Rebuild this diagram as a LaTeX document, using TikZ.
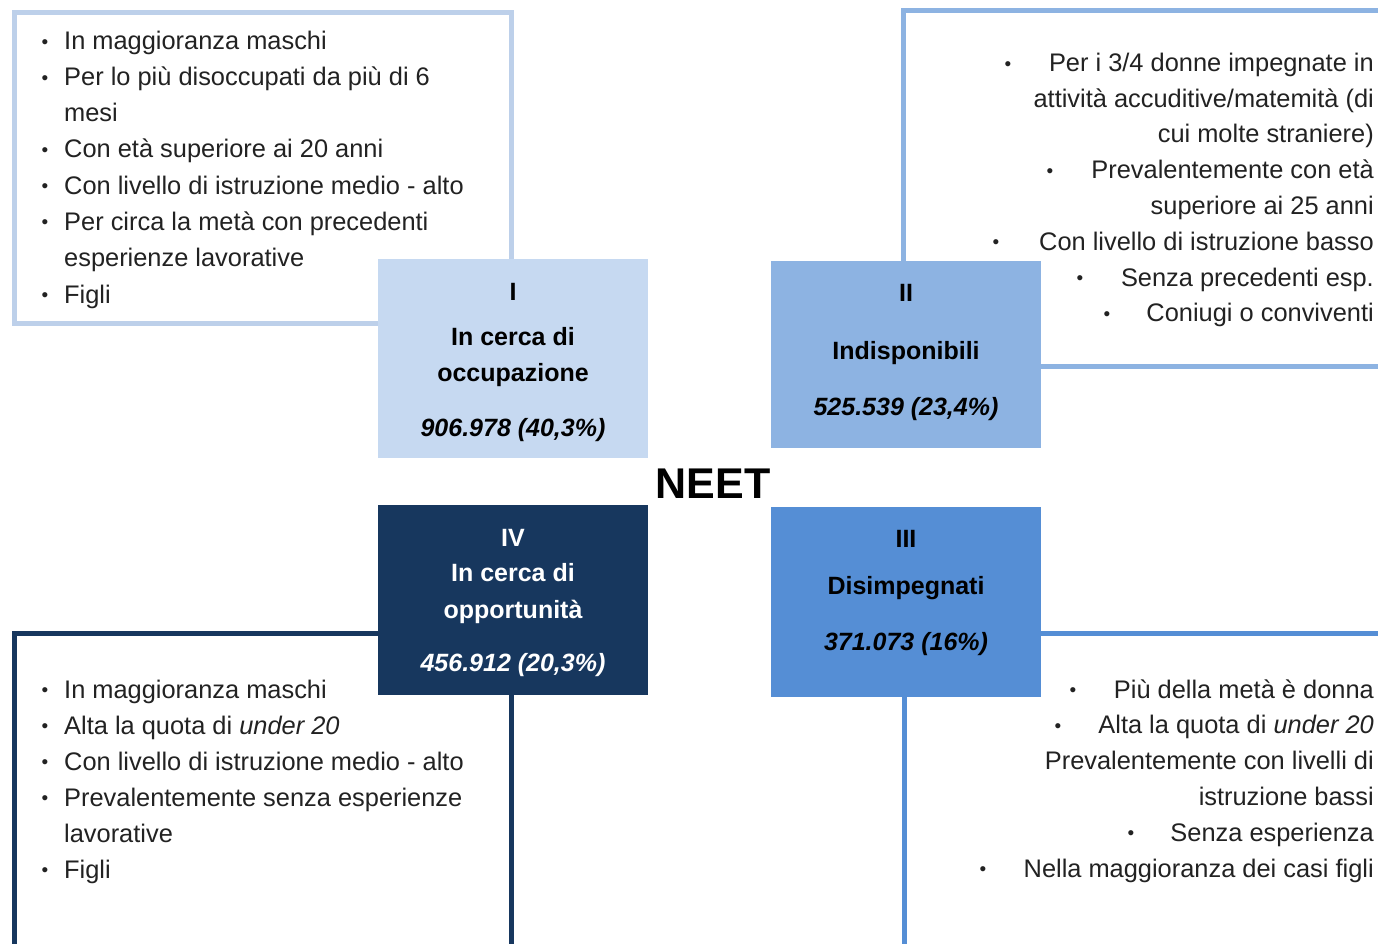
\documentclass[tikz,border=0pt]{standalone}
\usepackage{fontspec}
\setmainfont{Liberation Sans}
\definecolor{txtc}{HTML}{222222}
\definecolor{cOne}{HTML}{C6D9F1}
\definecolor{bOne}{HTML}{BDD0EA}
\definecolor{cTwo}{HTML}{8DB3E2}
\definecolor{cThree}{HTML}{558ED5}
\definecolor{cFour}{HTML}{17375E}
\tikzset{
  outl/.style={line width=5pt, fill=white},
  catbox/.style={inner sep=0pt},
  cat/.style={inner sep=0pt, anchor=base, font=\bfseries\fontsize{25}{30}\selectfont, text=black},
  catnum/.style={cat, font=\bfseries\itshape\fontsize{25}{30}\selectfont},
  itm/.style={inner sep=0pt, anchor=base west, font=\fontsize{25.4}{36}\selectfont, text=txtc},
  itmr/.style={itm, anchor=base east},
  bul/.style={inner sep=0pt, anchor=base, yshift=1.5pt, font=\fontsize{19}{36}\selectfont, text=txtc},
}
\begin{document}
\begin{tikzpicture}[x=1pt, y=-1pt]
\useasboundingbox (0,0) rectangle (1378,944);
\clip (0,0) rectangle (1378,944);
% outline boxes
\draw[outl, draw=bOne] (14.5,12.5) rectangle (511.5,323.5);
\draw[outl, draw=cTwo] (903.5,10.5) rectangle (1400,366);
\draw[outl, draw=cFour] (14.5,633) rectangle (511,960);
\draw[outl, draw=cThree] (904,633) rectangle (1400,960);
% category boxes
\node[catbox, fill=cOne, minimum width=270pt, minimum height=199pt, anchor=north west] (b1) at (378,259) {};
\node[catbox, fill=cTwo, minimum width=270pt, minimum height=187pt, anchor=north west] (b2) at (771,261) {};
\node[catbox, fill=cFour, minimum width=270pt, minimum height=190pt, anchor=north west] (b4) at (378,505) {};
\node[catbox, fill=cThree, minimum width=270pt, minimum height=190pt, anchor=north west] (b3) at (771,507) {};
% box I
\node[cat] (b1a) at (513,300) {I};
\node[cat] (b1b) at (513,345) {In cerca di};
\node[cat] (b1c) at (513,381.5) {occupazione};
\node[catnum] (b1d) at (513,436.5) {906.978 (40,3\%)};
% box II
\node[cat] (b2a) at (906,301.5) {II};
\node[cat] (b2b) at (906,359) {Indisponibili};
\node[catnum] (b2c) at (906,415) {525.539 (23,4\%)};
% box IV
\node[cat, text=white] (b4a) at (513,546) {IV};
\node[cat, text=white] (b4b) at (513,581.7) {In cerca di};
\node[cat, text=white] (b4c) at (513,618) {opportunità};
\node[catnum, text=white] (b4d) at (513,671.7) {456.912 (20,3\%)};
% box III
\node[cat] (b3a) at (906,547.7) {III};
\node[cat] (b3b) at (906,594) {Disimpegnati};
\node[catnum] (b3c) at (906,650) {371.073 (16\%)};
% NEET
\node[inner sep=0pt, anchor=base, font=\bfseries\fontsize{43}{50}\selectfont] (neet) at (713,498) {NEET};
% top-left list
\node[bul] (tlb1) at (45,50) {•};
\node[itm] (tl1) at (64,50) {In maggioranza maschi};
\node[bul] (tlb2) at (45,86) {•};
\node[itm] (tl2) at (64,86) {Per lo più disoccupati da più di 6};
\node[itm] (tl3) at (64,122) {mesi};
\node[bul] (tlb4) at (45,158) {•};
\node[itm] (tl4) at (64,158) {Con età superiore ai 20 anni};
\node[bul] (tlb5) at (45,194) {•};
\node[itm] (tl5) at (64,194) {Con livello di istruzione medio - alto};
\node[bul] (tlb6) at (45,230) {•};
\node[itm] (tl6) at (64,230) {Per circa la metà con precedenti};
\node[itm] (tl7) at (64,266) {esperienze lavorative};
\node[bul] (tlb8) at (45,303) {•};
\node[itm] (tl8) at (64,303) {Figli};
% top-right list
\node[bul] (trb1) at (1008,72) {•};
\node[itmr] (tr1) at (1374,72) {Per i 3/4 donne impegnate in};
\node[itmr] (tr2) at (1374,107.5) {attività accuditive/matemità (di};
\node[itmr] (tr3) at (1374,143) {cui molte straniere)};
\node[bul] (trb4) at (1050,179) {•};
\node[itmr] (tr4) at (1374,179) {Prevalentemente con età};
\node[itmr] (tr5) at (1374,214.5) {superiore ai 25 anni};
\node[bul] (trb6) at (996,250) {•};
\node[itmr] (tr6) at (1374,250) {Con livello di istruzione basso};
\node[bul] (trb7) at (1080,286) {•};
\node[itmr] (tr7) at (1374,286) {Senza precedenti esp.};
\node[bul] (trb8) at (1107,321.5) {•};
\node[itmr] (tr8) at (1374,321.5) {Coniugi o conviventi};
% bottom-left list
\node[bul] (blb1) at (45,698) {•};
\node[itm] (bl1) at (64,698) {In maggioranza maschi};
\node[bul] (blb2) at (45,734) {•};
\node[itm] (bl2) at (64,734) {Alta la quota di \textit{under 20}};
\node[bul] (blb3) at (45,770) {•};
\node[itm] (bl3) at (64,770) {Con livello di istruzione medio - alto};
\node[bul] (blb4) at (45,806) {•};
\node[itm] (bl4) at (64,806) {Prevalentemente senza esperienze};
\node[itm] (bl5) at (64,842) {lavorative};
\node[bul] (blb6) at (45,878) {•};
\node[itm] (bl6) at (64,878) {Figli};
% bottom-right list
\node[bul] (brb1) at (1073,698) {•};
\node[itmr] (br1) at (1374,698) {Più della metà è donna};
\node[bul] (brb2) at (1058,733.5) {•};
\node[itmr] (br2) at (1374,733.5) {Alta la quota di \textit{under 20}};
\node[itmr] (br3) at (1374,769) {Prevalentemente con livelli di};
\node[itmr] (br4) at (1374,805) {istruzione bassi};
\node[bul] (brb5) at (1131,841) {•};
\node[itmr] (br5) at (1374,841) {Senza esperienza};
\node[bul] (brb6) at (983,877) {•};
\node[itmr] (br6) at (1374,877) {Nella maggioranza dei casi figli};
\end{tikzpicture}
\end{document}
